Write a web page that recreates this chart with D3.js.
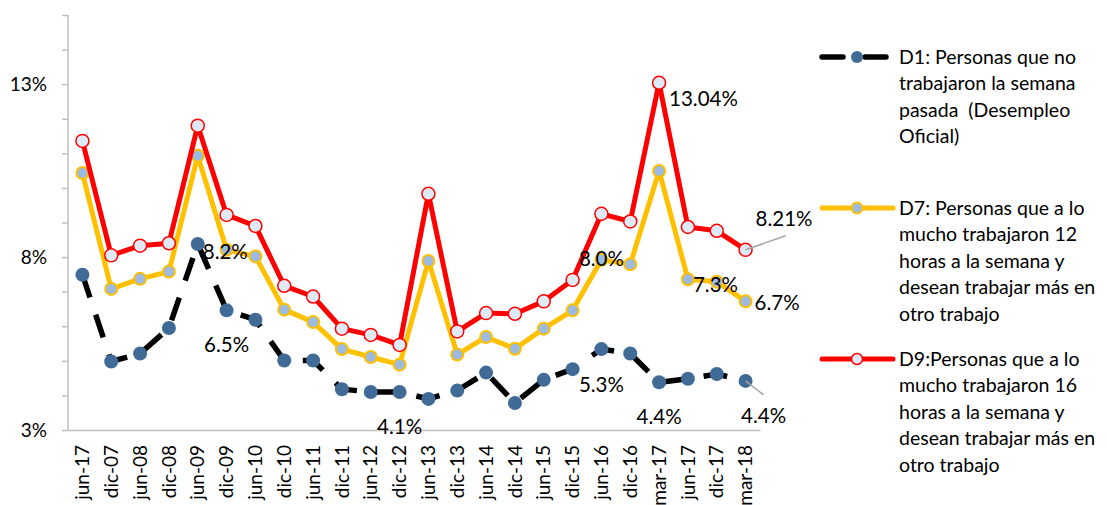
<!DOCTYPE html>
<html>
<head>
<meta charset="utf-8">
<script src="https://cdn.jsdelivr.net/npm/d3@7"></script>
<style>
  body { margin: 0; background: #fff; }
  svg { display: block; font-family: Lato, "Open Sans", sans-serif; }
</style>
</head>
<body>
<div id="chart"></div>
<script>
const categories = ["jun-17", "dic-07", "jun-08", "dic-08", "jun-09", "dic-09", "jun-10", "dic-10",
  "jun-11", "dic-11", "jun-12", "dic-12", "jun-13", "dic-13", "jun-14", "dic-14", "jun-15", "dic-15",
  "jun-16", "dic-16", "mar-17", "jun-17 ", "dic-17", "mar-18"];

// D1: desempleo oficial
const d1 = [7.49, 4.98, 5.21, 5.95, 8.38, 6.46, 6.19, 5.01, 5.01, 4.18, 4.10, 4.10,
  3.90, 4.14, 4.66, 3.78, 4.45, 4.76, 5.34, 5.21, 4.38, 4.48, 4.62, 4.42];
// D7: a lo mucho 12 horas
const d7 = [10.43, 7.08, 7.37, 7.58, 10.93, 8.21, 8.02, 6.48, 6.12, 5.34, 5.11, 4.89,
  7.89, 5.18, 5.69, 5.35, 5.93, 6.46, 7.92, 7.79, 10.49, 7.36, 7.29, 6.72];
// D9: a lo mucho 16 horas
const d9 = [11.36, 8.05, 8.33, 8.40, 11.80, 9.22, 8.90, 7.17, 6.86, 5.93, 5.75, 5.46,
  9.83, 5.85, 6.38, 6.36, 6.72, 7.34, 9.25, 9.03, 13.04, 8.87, 8.76, 8.21];

const yLabelTicks = [3, 8, 13];
const yMinorTicks = [3, 4, 5, 6, 7, 8, 9, 10, 11, 12, 13, 14, 15];

const legendD1 = ["D1: Personas que no", "trabajaron la semana", "pasada  (Desempleo", "Oficial)"];
const legendD7 = ["D7: Personas que a lo", "mucho trabajaron 12", "horas a la semana y", "desean trabajar más en", "otro trabajo"];
const legendD9 = ["D9:Personas que a lo", "mucho trabajaron 16", "horas a la semana y", "desean trabajar más en", "otro trabajo"];

// etiquetas de datos: serie, índice, texto
const dataLabels = [
  { s: "d1", i: 4, text: "8.2%" },
  { s: "d1", i: 5, text: "6.5%" },
  { s: "d1", i: 11, text: "4.1%" },
  { s: "d1", i: 18, text: "5.3%" },
  { s: "d1", i: 20, text: "4.4%" },
  { s: "d1", i: 23, text: "4.4%" },
  { s: "d7", i: 18, text: "8.0%" },
  { s: "d7", i: 21, text: "7.3%" },
  { s: "d7", i: 23, text: "6.7%" },
  { s: "d9", i: 20, text: "13.04%" },
  { s: "d9", i: 23, text: "8.21%" }
];

const width = 1107, height = 505;
const margin = { top: 15, right: 347, bottom: 75, left: 68 };
const grey = "#bfbfbf";

const svg = d3.select("#chart").append("svg")
  .attr("width", width)
  .attr("height", height)
  .attr("viewBox", [0, 0, width, height]);

const x = d3.scaleBand()
  .domain(categories)
  .range([margin.left, width - margin.right]);

const y = d3.scaleLinear()
  .domain([3, 15])
  .range([height - margin.bottom, margin.top]);

const cx = (d, i) => x(categories[i]) + x.bandwidth() / 2;

// eje Y
svg.append("g")
  .attr("transform", `translate(${margin.left},0)`)
  .call(d3.axisLeft(y).tickValues(yMinorTicks).tickSize(6).tickFormat(""))
  .call(g => g.selectAll("line, path").attr("stroke", grey).attr("stroke-width", 1.5))
  .call(g => g.select(".domain").attr("d", `M0,${y(15)}V${y(3)}`));

svg.append("g")
  .selectAll("text")
  .data(yLabelTicks)
  .join("text")
  .attr("x", margin.left - 21)
  .attr("y", d => y(d))
  .attr("dy", "0.35em")
  .attr("text-anchor", "end")
  .attr("font-size", 19)
  .attr("fill", "#000")
  .text(d => d + "%");

// eje X
svg.append("g")
  .attr("transform", `translate(0,${y(3)})`)
  .call(d3.axisBottom(x).tickSize(0).tickPadding(0))
  .call(g => g.select(".domain").attr("stroke", grey).attr("stroke-width", 1.5))
  .call(g => g.selectAll("text")
    .attr("font-family", "Lato, sans-serif")
    .attr("font-size", 19)
    .attr("fill", "#000")
    .attr("text-anchor", "end")
    .attr("transform", "translate(0,15) rotate(-90)")
    .attr("dx", 0)
    .attr("dy", "0.35em")
    .attr("y", 0));

const line = d3.line()
  .x(cx)
  .y(d => y(d));

// D1
svg.append("path")
  .datum(d1)
  .attr("fill", "none")
  .attr("stroke", "#000")
  .attr("stroke-width", 5.5)
  .attr("stroke-dasharray", "24,18")
  .attr("d", line);

// D7
svg.append("path")
  .datum(d7)
  .attr("fill", "none")
  .attr("stroke", "#ffc000")
  .attr("stroke-width", 5)
  .attr("stroke-linejoin", "round")
  .attr("d", line);

svg.append("g")
  .selectAll("circle")
  .data(d7)
  .join("circle")
  .attr("cx", cx)
  .attr("cy", d => y(d))
  .attr("r", 6)
  .attr("fill", "#9dbae0")
  .attr("stroke", "#ffc000")
  .attr("stroke-width", 2);

// D9
svg.append("path")
  .datum(d9)
  .attr("fill", "none")
  .attr("stroke", "#ff0000")
  .attr("stroke-width", 5)
  .attr("stroke-linejoin", "round")
  .attr("d", line);

svg.append("g")
  .selectAll("circle")
  .data(d9)
  .join("circle")
  .attr("cx", cx)
  .attr("cy", d => y(d))
  .attr("r", 6.5)
  .attr("fill", "#deeaf6")
  .attr("stroke", "#ff0000")
  .attr("stroke-width", 1.5);

// marcadores D1
svg.append("g")
  .selectAll("circle")
  .data(d1)
  .join("circle")
  .attr("cx", cx)
  .attr("cy", d => y(d))
  .attr("r", 7)
  .attr("fill", "#3f6b96");

// etiquetas
const series = { d1, d7, d9 };
const place = {
  "d1-4": { dx: 5, dy: 8, anchor: "start" },
  "d1-5": { dx: 0, dy: 34, anchor: "middle" },
  "d1-11": { dx: 0, dy: 35, anchor: "middle" },
  "d1-18": { dx: 0, dy: 36, anchor: "middle" },
  "d1-20": { dx: 0, dy: 35, anchor: "middle" },
  "d1-23": { dx: 18, dy: 35, anchor: "middle", lead: [18, 14] },
  "d7-18": { dx: 0, dy: -1, anchor: "middle" },
  "d7-21": { dx: 5, dy: 6, anchor: "start" },
  "d7-23": { dx: 9, dy: 1, anchor: "start" },
  "d9-20": { dx: 10, dy: 16, anchor: "start" },
  "d9-23": { dx: 10, dy: -31, anchor: "start", lead: [40, -14] }
};

const lab = svg.append("g")
  .attr("font-size", 20.5)
  .attr("fill", "#000");

dataLabels.forEach(l => {
  const p = place[l.s + "-" + l.i];
  const px = cx(null, l.i), py = y(series[l.s][l.i]);
  if (p.lead) {
    lab.append("line")
      .attr("x1", px).attr("y1", py)
      .attr("x2", px + p.lead[0]).attr("y2", py + p.lead[1])
      .attr("stroke", "#a6a6a6")
      .attr("stroke-width", 1.5);
  }
  lab.append("text")
    .attr("x", px + p.dx)
    .attr("y", py + p.dy)
    .attr("dy", "0.35em")
    .attr("text-anchor", p.anchor)
    .text(l.text);
});

// leyenda
const legend = svg.append("g").attr("font-size", 19.5).attr("fill", "#000");
const lx0 = 822, lx1 = 893, tx = 899, lh = 26.5;

function legendText(lines, y0) {
  legend.append("g")
    .selectAll("text")
    .data(lines)
    .join("text")
    .attr("x", tx)
    .attr("y", (d, i) => y0 + i * lh)
    .attr("dy", "0.35em")
    .attr("xml:space", "preserve")
    .style("white-space", "pre")
    .text(d => d);
}

// D1
legend.append("line").attr("x1", lx0).attr("x2", 843).attr("y1", 57).attr("y2", 57)
  .attr("stroke", "#000").attr("stroke-width", 5.5).attr("stroke-linecap", "round");
legend.append("line").attr("x1", 865).attr("x2", 886).attr("y1", 57).attr("y2", 57)
  .attr("stroke", "#000").attr("stroke-width", 5.5).attr("stroke-linecap", "round");
legend.append("circle").attr("cx", 857).attr("cy", 57).attr("r", 6).attr("fill", "#3f6b96");
legendText(legendD1, 57);

// D7
legend.append("line").attr("x1", lx0).attr("x2", lx1).attr("y1", 208).attr("y2", 208)
  .attr("stroke", "#ffc000").attr("stroke-width", 5).attr("stroke-linecap", "round");
legend.append("circle").attr("cx", 857).attr("cy", 208).attr("r", 5.5)
  .attr("fill", "#9dbae0").attr("stroke", "#ffc000").attr("stroke-width", 2);
legendText(legendD7, 208);

// D9
legend.append("line").attr("x1", lx0).attr("x2", lx1).attr("y1", 359).attr("y2", 359)
  .attr("stroke", "#ff0000").attr("stroke-width", 5).attr("stroke-linecap", "round");
legend.append("circle").attr("cx", 857).attr("cy", 359).attr("r", 5.5)
  .attr("fill", "#deeaf6").attr("stroke", "#ff0000").attr("stroke-width", 1.5);
legendText(legendD9, 359);
</script>
</body>
</html>
